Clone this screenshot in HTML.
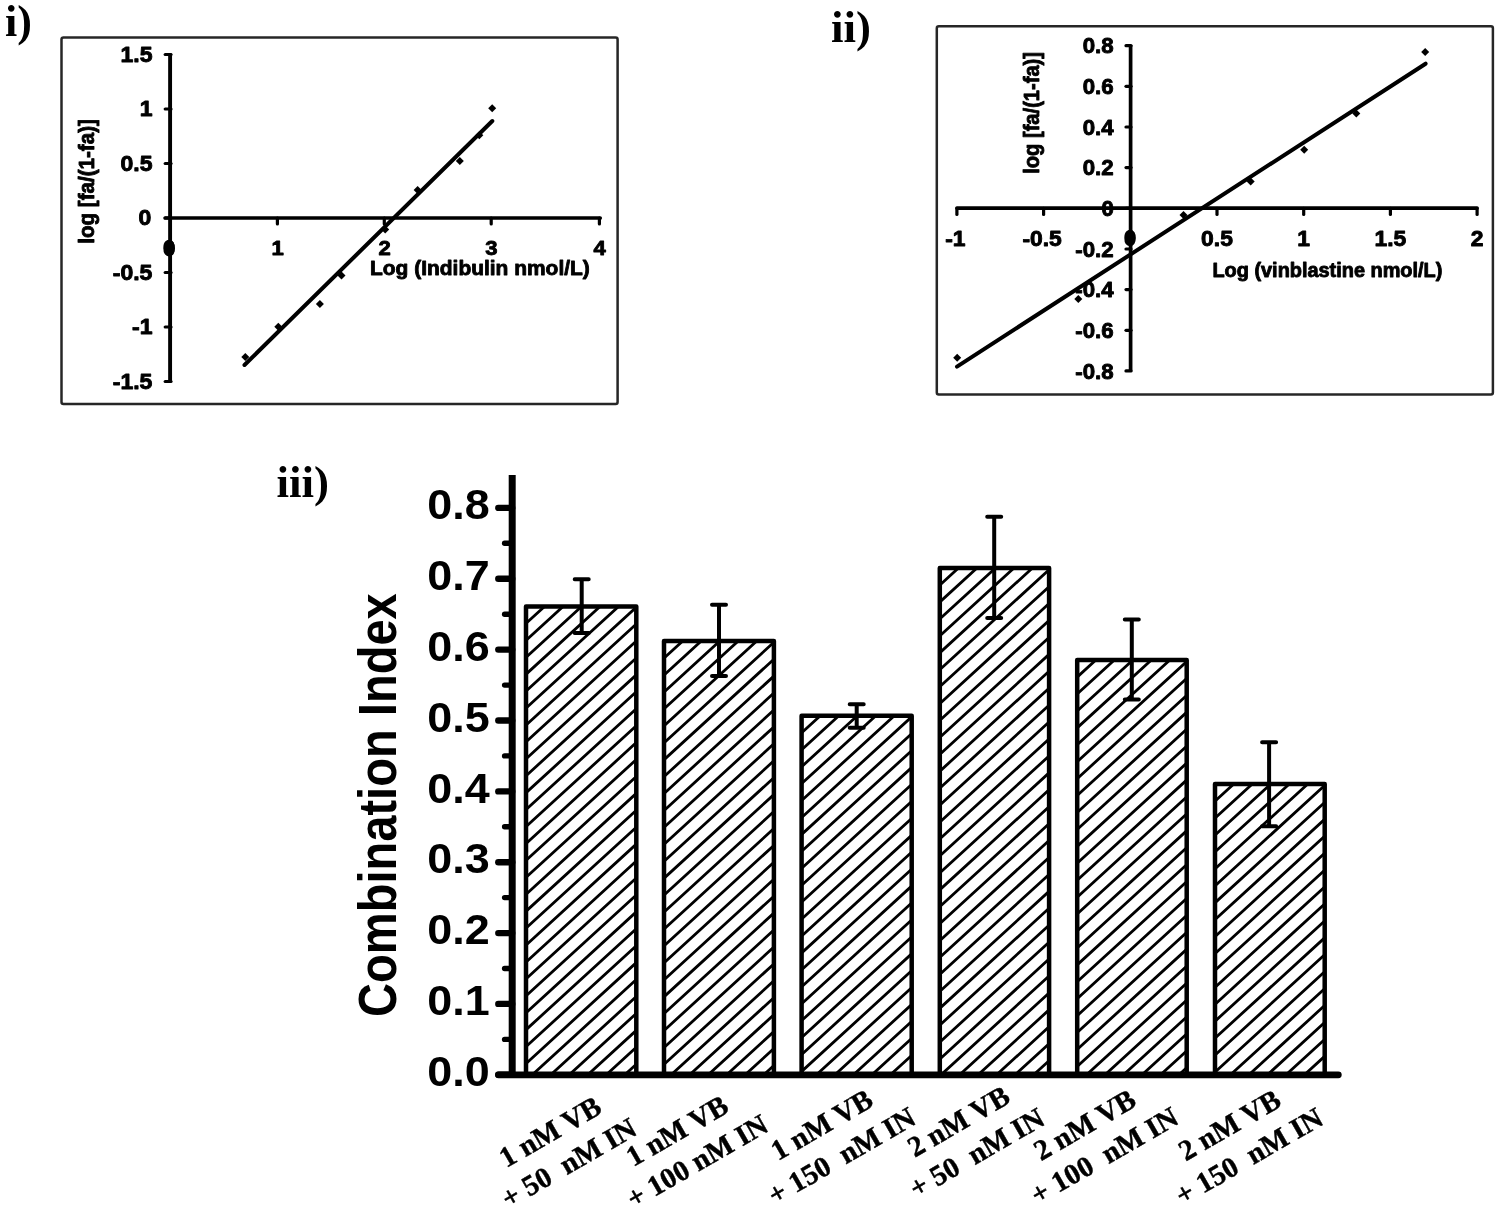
<!DOCTYPE html>
<html lang="en"><head><meta charset="utf-8"><title>Figure</title>
<style>
html,body{margin:0;padding:0;background:#fff;}
body{width:1500px;height:1209px;overflow:hidden;}
svg{display:block;}
text{fill:#000;}
</style></head><body>
<svg width="1500" height="1209" viewBox="0 0 1500 1209">
<defs><filter id="soft" x="-2%" y="-2%" width="104%" height="104%"><feGaussianBlur stdDeviation="0.55"/></filter></defs>
<rect width="1500" height="1209" fill="#fff"/>

<text transform="translate(4.90,36.13) scale(1.0007,1)" font-family="Liberation Serif, serif" font-weight="bold" font-size="44.07"  >i)</text>
<text transform="translate(831.00,41.65) scale(1.0225,1)" font-family="Liberation Serif, serif" font-weight="bold" font-size="43.96"  >ii)</text>
<text transform="translate(276.50,497.17) scale(1.0278,1)" font-family="Liberation Serif, serif" font-weight="bold" font-size="43.85"  >iii)</text>
<g id="chart1" filter="url(#soft)">
<rect x="61.5" y="37.5" width="556.1" height="366.5" rx="2" fill="none" stroke="#262626" stroke-width="2.5"/>
<path d="M170.1,53.5 V382" stroke="#000" stroke-width="3.9" fill="none"/>
<path d="M165.2,218 H600.2" stroke="#000" stroke-width="3.7" fill="none" stroke-linecap="round"/>
<path d="M165.2,54.5 H171" stroke="#000" stroke-width="3.2" stroke-linecap="round"/>
<path d="M165.2,109.0 H171" stroke="#000" stroke-width="3.2" stroke-linecap="round"/>
<path d="M165.2,163.5 H171" stroke="#000" stroke-width="3.2" stroke-linecap="round"/>
<path d="M165.2,218.0 H171" stroke="#000" stroke-width="3.2" stroke-linecap="round"/>
<path d="M165.2,272.5 H171" stroke="#000" stroke-width="3.2" stroke-linecap="round"/>
<path d="M165.2,327.0 H171" stroke="#000" stroke-width="3.2" stroke-linecap="round"/>
<path d="M165.2,381.5 H171" stroke="#000" stroke-width="3.2" stroke-linecap="round"/>
<path d="M277.4,218 V224" stroke="#000" stroke-width="3.2" stroke-linecap="round"/>
<path d="M384.3,218 V224" stroke="#000" stroke-width="3.2" stroke-linecap="round"/>
<path d="M491.2,218 V224" stroke="#000" stroke-width="3.2" stroke-linecap="round"/>
<path d="M599.4,218 V224" stroke="#000" stroke-width="3.2" stroke-linecap="round"/>
<text transform="translate(120.48,61.93) scale(1.0400,1)" font-family="Liberation Sans, sans-serif" font-weight="bold" font-size="22.11" stroke="#000" stroke-width="0.9" stroke-linejoin="round">1.5</text>
<text transform="translate(139.69,116.43) scale(1.0400,1)" font-family="Liberation Sans, sans-serif" font-weight="bold" font-size="22.11" stroke="#000" stroke-width="0.9" stroke-linejoin="round">1</text>
<text transform="translate(120.48,170.93) scale(1.0400,1)" font-family="Liberation Sans, sans-serif" font-weight="bold" font-size="22.11" stroke="#000" stroke-width="0.9" stroke-linejoin="round">0.5</text>
<text transform="translate(138.49,225.43) scale(1.0400,1)" font-family="Liberation Sans, sans-serif" font-weight="bold" font-size="22.11" stroke="#000" stroke-width="0.9" stroke-linejoin="round">0</text>
<text transform="translate(112.78,279.93) scale(1.0400,1)" font-family="Liberation Sans, sans-serif" font-weight="bold" font-size="22.11" stroke="#000" stroke-width="0.9" stroke-linejoin="round">-0.5</text>
<text transform="translate(131.98,334.43) scale(1.0400,1)" font-family="Liberation Sans, sans-serif" font-weight="bold" font-size="22.11" stroke="#000" stroke-width="0.9" stroke-linejoin="round">-1</text>
<text transform="translate(112.78,388.93) scale(1.0400,1)" font-family="Liberation Sans, sans-serif" font-weight="bold" font-size="22.11" stroke="#000" stroke-width="0.9" stroke-linejoin="round">-1.5</text>
<text transform="translate(271.57,255.49) scale(1.0600,1)" font-family="Liberation Sans, sans-serif" font-weight="bold" font-size="20.85" stroke="#000" stroke-width="0.9" stroke-linejoin="round">1</text>
<text transform="translate(378.47,255.49) scale(1.0600,1)" font-family="Liberation Sans, sans-serif" font-weight="bold" font-size="20.85" stroke="#000" stroke-width="0.9" stroke-linejoin="round">2</text>
<text transform="translate(485.37,255.49) scale(1.0600,1)" font-family="Liberation Sans, sans-serif" font-weight="bold" font-size="20.85" stroke="#000" stroke-width="0.9" stroke-linejoin="round">3</text>
<text transform="translate(593.47,255.49) scale(1.0600,1)" font-family="Liberation Sans, sans-serif" font-weight="bold" font-size="20.85" stroke="#000" stroke-width="0.9" stroke-linejoin="round">4</text>
<ellipse cx="169.4" cy="248.2" rx="5.5" ry="8.5" fill="#000"/>
<text x="163.6" y="255.2" font-family="Liberation Sans, sans-serif" font-weight="bold" font-size="20" fill="#000" stroke="#000" stroke-width="2">0</text>
<text transform="translate(370.05,275.25) scale(0.9995,1)" font-family="Liberation Sans, sans-serif" font-weight="bold" font-size="20.96" stroke="#000" stroke-width="0.9" stroke-linejoin="round" >Log (Indibulin nmol/L)</text>
<text transform="translate(93.67,243.75) rotate(-90) scale(0.9040,1)" font-family="Liberation Sans, sans-serif" font-weight="bold" font-size="22.78" stroke="#000" stroke-width="0.9" stroke-linejoin="round" >log [fa/(1-fa)]</text>
<path d="M244.5,365 L492.3,121" stroke="#000" stroke-width="4" stroke-linecap="round"/>
<path d="M488.2,108.3 L492.2,104.3 L496.2,108.3 L492.2,112.3Z" fill="#000"/>
<path d="M475.3,135.3 L479.3,131.3 L483.3,135.3 L479.3,139.3Z" fill="#000"/>
<path d="M455.8,161.1 L459.8,157.1 L463.8,161.1 L459.8,165.1Z" fill="#000"/>
<path d="M413.6,189.9 L417.6,185.9 L421.6,189.9 L417.6,193.9Z" fill="#000"/>
<path d="M381.2,229.5 L385.2,225.5 L389.2,229.5 L385.2,233.5Z" fill="#000"/>
<path d="M337.5,275.6 L341.5,271.6 L345.5,275.6 L341.5,279.6Z" fill="#000"/>
<path d="M315.9,303.9 L319.9,299.9 L323.9,303.9 L319.9,307.9Z" fill="#000"/>
<path d="M274.3,326.7 L278.3,322.7 L282.3,326.7 L278.3,330.7Z" fill="#000"/>
<path d="M241.3,356.9 L245.3,352.9 L249.3,356.9 L245.3,360.9Z" fill="#000"/>
</g>
<g id="chart2" filter="url(#soft)">
<rect x="936.8" y="26.3" width="556.1" height="368.2" rx="2" fill="none" stroke="#262626" stroke-width="2.5"/>
<path d="M1130.6,45 V371.5" stroke="#000" stroke-width="3.7" fill="none"/>
<path d="M957,208.1 H1477" stroke="#000" stroke-width="3.7" fill="none" stroke-linecap="round"/>
<path d="M1126,45.7 H1131" stroke="#000" stroke-width="3.2" stroke-linecap="round"/>
<path d="M1126,86.3 H1131" stroke="#000" stroke-width="3.2" stroke-linecap="round"/>
<path d="M1126,127.0 H1131" stroke="#000" stroke-width="3.2" stroke-linecap="round"/>
<path d="M1126,167.6 H1131" stroke="#000" stroke-width="3.2" stroke-linecap="round"/>
<path d="M1126,208.3 H1131" stroke="#000" stroke-width="3.2" stroke-linecap="round"/>
<path d="M1126,249.0 H1131" stroke="#000" stroke-width="3.2" stroke-linecap="round"/>
<path d="M1126,289.6 H1131" stroke="#000" stroke-width="3.2" stroke-linecap="round"/>
<path d="M1126,330.3 H1131" stroke="#000" stroke-width="3.2" stroke-linecap="round"/>
<path d="M1126,370.9 H1131" stroke="#000" stroke-width="3.2" stroke-linecap="round"/>
<path d="M956.9,208.3 V214.5" stroke="#000" stroke-width="3.2" stroke-linecap="round"/>
<path d="M1043.6,208.3 V214.5" stroke="#000" stroke-width="3.2" stroke-linecap="round"/>
<path d="M1217.0,208.3 V214.5" stroke="#000" stroke-width="3.2" stroke-linecap="round"/>
<path d="M1303.7,208.3 V214.5" stroke="#000" stroke-width="3.2" stroke-linecap="round"/>
<path d="M1390.4,208.3 V214.5" stroke="#000" stroke-width="3.2" stroke-linecap="round"/>
<path d="M1477.1,208.3 V214.5" stroke="#000" stroke-width="3.2" stroke-linecap="round"/>
<text transform="translate(1082.70,53.29) scale(1.0200,1)" font-family="Liberation Sans, sans-serif" font-weight="bold" font-size="21.83" stroke="#000" stroke-width="0.9" stroke-linejoin="round">0.8</text>
<text transform="translate(1082.70,93.95) scale(1.0200,1)" font-family="Liberation Sans, sans-serif" font-weight="bold" font-size="21.83" stroke="#000" stroke-width="0.9" stroke-linejoin="round">0.6</text>
<text transform="translate(1082.70,134.61) scale(1.0200,1)" font-family="Liberation Sans, sans-serif" font-weight="bold" font-size="21.83" stroke="#000" stroke-width="0.9" stroke-linejoin="round">0.4</text>
<text transform="translate(1082.70,175.27) scale(1.0200,1)" font-family="Liberation Sans, sans-serif" font-weight="bold" font-size="21.83" stroke="#000" stroke-width="0.9" stroke-linejoin="round">0.2</text>
<text transform="translate(1101.49,215.93) scale(1.0200,1)" font-family="Liberation Sans, sans-serif" font-weight="bold" font-size="21.83" stroke="#000" stroke-width="0.9" stroke-linejoin="round">0</text>
<text transform="translate(1075.24,256.59) scale(1.0200,1)" font-family="Liberation Sans, sans-serif" font-weight="bold" font-size="21.83" stroke="#000" stroke-width="0.9" stroke-linejoin="round">-0.2</text>
<text transform="translate(1075.24,297.25) scale(1.0200,1)" font-family="Liberation Sans, sans-serif" font-weight="bold" font-size="21.83" stroke="#000" stroke-width="0.9" stroke-linejoin="round">-0.4</text>
<text transform="translate(1075.24,337.91) scale(1.0200,1)" font-family="Liberation Sans, sans-serif" font-weight="bold" font-size="21.83" stroke="#000" stroke-width="0.9" stroke-linejoin="round">-0.6</text>
<text transform="translate(1075.24,378.57) scale(1.0200,1)" font-family="Liberation Sans, sans-serif" font-weight="bold" font-size="21.83" stroke="#000" stroke-width="0.9" stroke-linejoin="round">-0.8</text>
<text transform="translate(945.23,245.88) scale(1.0400,1)" font-family="Liberation Sans, sans-serif" font-weight="bold" font-size="21.97" stroke="#000" stroke-width="0.9" stroke-linejoin="round">-1</text>
<text transform="translate(1022.39,245.88) scale(1.0400,1)" font-family="Liberation Sans, sans-serif" font-weight="bold" font-size="21.97" stroke="#000" stroke-width="0.9" stroke-linejoin="round">-0.5</text>
<text transform="translate(1201.12,245.88) scale(1.0400,1)" font-family="Liberation Sans, sans-serif" font-weight="bold" font-size="21.97" stroke="#000" stroke-width="0.9" stroke-linejoin="round">0.5</text>
<text transform="translate(1297.36,245.88) scale(1.0400,1)" font-family="Liberation Sans, sans-serif" font-weight="bold" font-size="21.97" stroke="#000" stroke-width="0.9" stroke-linejoin="round">1</text>
<text transform="translate(1374.52,245.88) scale(1.0400,1)" font-family="Liberation Sans, sans-serif" font-weight="bold" font-size="21.97" stroke="#000" stroke-width="0.9" stroke-linejoin="round">1.5</text>
<text transform="translate(1470.76,245.88) scale(1.0400,1)" font-family="Liberation Sans, sans-serif" font-weight="bold" font-size="21.97" stroke="#000" stroke-width="0.9" stroke-linejoin="round">2</text>
<ellipse cx="1130.3" cy="238" rx="5" ry="8.2" fill="#000"/>
<text x="1124.6" y="245.2" font-family="Liberation Sans, sans-serif" font-weight="bold" font-size="20" fill="#000" stroke="#000" stroke-width="2">0</text>
<text transform="translate(1212.45,277.05) scale(0.9957,1)" font-family="Liberation Sans, sans-serif" font-weight="bold" font-size="20.00" stroke="#000" stroke-width="0.9" stroke-linejoin="round" >Log (vinblastine nmol/L)</text>
<text transform="translate(1039.06,173.75) rotate(-90) scale(0.8999,1)" font-family="Liberation Sans, sans-serif" font-weight="bold" font-size="22.35" stroke="#000" stroke-width="0.9" stroke-linejoin="round" >log [fa/(1-fa)]</text>
<path d="M957,366.6 L1425.6,63.7" stroke="#000" stroke-width="4" stroke-linecap="round"/>
<path d="M1421.2,51.9 L1425.2,47.9 L1429.2,51.9 L1425.2,55.9Z" fill="#000"/>
<path d="M1352.3,113.6 L1356.3,109.6 L1360.3,113.6 L1356.3,117.6Z" fill="#000"/>
<path d="M1300.2,149.8 L1304.2,145.8 L1308.2,149.8 L1304.2,153.8Z" fill="#000"/>
<path d="M1246.7,181.5 L1250.7,177.5 L1254.7,181.5 L1250.7,185.5Z" fill="#000"/>
<path d="M1179.5,215.1 L1183.5,211.1 L1187.5,215.1 L1183.5,219.1Z" fill="#000"/>
<path d="M1074.3,299.1 L1078.3,295.1 L1082.3,299.1 L1078.3,303.1Z" fill="#000"/>
<path d="M953.2,357.7 L957.2,353.7 L961.2,357.7 L957.2,361.7Z" fill="#000"/>
</g>
<g id="chart3">
<defs>
<clipPath id="cb0"><rect x="526.0" y="606.4" width="110.3" height="468.4"/></clipPath>
<clipPath id="cb1"><rect x="664.0" y="641.0" width="109.9" height="433.8"/></clipPath>
<clipPath id="cb2"><rect x="801.6" y="715.7" width="110.1" height="359.1"/></clipPath>
<clipPath id="cb3"><rect x="939.8" y="568.0" width="109.3" height="506.8"/></clipPath>
<clipPath id="cb4"><rect x="1077.2" y="659.9" width="109.5" height="414.9"/></clipPath>
<clipPath id="cb5"><rect x="1215.0" y="784.0" width="109.7" height="290.8"/></clipPath>
</defs>
<path clip-path="url(#cb0)" d="M552.2,599.5L513.7,634.7M570.7,599.5L513.7,651.7M589.2,599.5L513.7,668.6M607.7,599.5L513.7,685.5M626.2,599.5L513.7,702.4M644.7,599.5L513.7,719.4M663.2,599.5L513.7,736.3M681.7,599.5L513.7,753.2M700.2,599.5L513.7,770.1M718.7,599.5L513.7,787.1M737.2,599.5L513.7,804.0M755.7,599.5L513.7,820.9M774.2,599.5L513.7,837.9M792.7,599.5L513.7,854.8M811.2,599.5L513.7,871.7M829.7,599.5L513.7,888.6M848.2,599.5L513.7,905.6M866.7,599.5L513.7,922.5M885.2,599.5L513.7,939.4M903.7,599.5L513.7,956.3M922.2,599.5L513.7,973.3M940.7,599.5L513.7,990.2M959.2,599.5L513.7,1007.1M977.7,599.5L513.7,1024.1M996.2,599.5L513.7,1041.0M1014.7,599.5L513.7,1057.9M1033.2,599.5L513.7,1074.8M1051.7,599.5L513.7,1091.8M1070.2,599.5L513.7,1108.7M1088.7,599.5L513.7,1125.6M1107.2,599.5L513.7,1142.6M1125.7,599.5L513.7,1159.5M1144.2,599.5L513.7,1176.4M1162.7,599.5L513.7,1193.3M1181.2,599.5L513.7,1210.3" stroke="#000" stroke-width="2.8" fill="none"/>
<rect x="526.0" y="606.4" width="110.3" height="468.4" fill="none" stroke="#000" stroke-width="4.5" stroke-linejoin="round"/>
<path clip-path="url(#cb1)" d="M690.3,634.1L651.8,669.3M708.8,634.1L651.8,686.3M727.3,634.1L651.8,703.2M745.8,634.1L651.8,720.1M764.3,634.1L651.8,737.0M782.8,634.1L651.8,754.0M801.3,634.1L651.8,770.9M819.8,634.1L651.8,787.8M838.3,634.1L651.8,804.7M856.8,634.1L651.8,821.7M875.3,634.1L651.8,838.6M893.8,634.1L651.8,855.5M912.3,634.1L651.8,872.5M930.8,634.1L651.8,889.4M949.3,634.1L651.8,906.3M967.8,634.1L651.8,923.2M986.3,634.1L651.8,940.2M1004.8,634.1L651.8,957.1M1023.3,634.1L651.8,974.0M1041.8,634.1L651.8,991.0M1060.3,634.1L651.8,1007.9M1078.8,634.1L651.8,1024.8M1097.3,634.1L651.8,1041.7M1115.8,634.1L651.8,1058.7M1134.3,634.1L651.8,1075.6M1152.8,634.1L651.8,1092.5M1171.3,634.1L651.8,1109.4M1189.8,634.1L651.8,1126.4M1208.3,634.1L651.8,1143.3M1226.8,634.1L651.8,1160.2M1245.3,634.1L651.8,1177.2M1263.8,634.1L651.8,1194.1M1282.3,634.1L651.8,1211.0" stroke="#000" stroke-width="2.8" fill="none"/>
<rect x="664.0" y="641.0" width="109.9" height="433.8" fill="none" stroke="#000" stroke-width="4.5" stroke-linejoin="round"/>
<path clip-path="url(#cb2)" d="M827.9,708.8L789.4,744.0M846.4,708.8L789.4,761.0M864.9,708.8L789.4,777.9M883.4,708.8L789.4,794.8M901.9,708.8L789.4,811.7M920.4,708.8L789.4,828.7M938.9,708.8L789.4,845.6M957.4,708.8L789.4,862.5M975.9,708.8L789.4,879.4M994.4,708.8L789.4,896.4M1012.9,708.8L789.4,913.3M1031.4,708.8L789.4,930.2M1049.9,708.8L789.4,947.2M1068.4,708.8L789.4,964.1M1086.9,708.8L789.4,981.0M1105.4,708.8L789.4,997.9M1123.9,708.8L789.4,1014.9M1142.4,708.8L789.4,1031.8M1160.9,708.8L789.4,1048.7M1179.4,708.8L789.4,1065.7M1197.9,708.8L789.4,1082.6M1216.4,708.8L789.4,1099.5M1234.9,708.8L789.4,1116.4M1253.4,708.8L789.4,1133.4M1271.9,708.8L789.4,1150.3M1290.4,708.8L789.4,1167.2M1308.9,708.8L789.4,1184.1M1327.4,708.8L789.4,1201.1M1345.9,708.8L789.4,1218.0" stroke="#000" stroke-width="2.8" fill="none"/>
<rect x="801.6" y="715.7" width="110.1" height="359.1" fill="none" stroke="#000" stroke-width="4.5" stroke-linejoin="round"/>
<path clip-path="url(#cb3)" d="M966.0,561.1L927.5,596.3M984.5,561.1L927.5,613.3M1003.0,561.1L927.5,630.2M1021.5,561.1L927.5,647.1M1040.0,561.1L927.5,664.0M1058.5,561.1L927.5,681.0M1077.0,561.1L927.5,697.9M1095.5,561.1L927.5,714.8M1114.0,561.1L927.5,731.7M1132.5,561.1L927.5,748.7M1151.0,561.1L927.5,765.6M1169.5,561.1L927.5,782.5M1188.0,561.1L927.5,799.5M1206.5,561.1L927.5,816.4M1225.0,561.1L927.5,833.3M1243.5,561.1L927.5,850.2M1262.0,561.1L927.5,867.2M1280.5,561.1L927.5,884.1M1299.0,561.1L927.5,901.0M1317.5,561.1L927.5,918.0M1336.0,561.1L927.5,934.9M1354.5,561.1L927.5,951.8M1373.0,561.1L927.5,968.7M1391.5,561.1L927.5,985.7M1410.0,561.1L927.5,1002.6M1428.5,561.1L927.5,1019.5M1447.0,561.1L927.5,1036.4M1465.5,561.1L927.5,1053.4M1484.0,561.1L927.5,1070.3M1502.5,561.1L927.5,1087.2M1521.0,561.1L927.5,1104.2M1539.5,561.1L927.5,1121.1M1558.0,561.1L927.5,1138.0M1576.5,561.1L927.5,1154.9M1595.0,561.1L927.5,1171.9M1613.5,561.1L927.5,1188.8M1632.0,561.1L927.5,1205.7M1650.5,561.1L927.5,1222.6" stroke="#000" stroke-width="2.8" fill="none"/>
<rect x="939.8" y="568.0" width="109.3" height="506.8" fill="none" stroke="#000" stroke-width="4.5" stroke-linejoin="round"/>
<path clip-path="url(#cb4)" d="M1103.5,653.0L1065.0,688.2M1122.0,653.0L1065.0,705.2M1140.5,653.0L1065.0,722.1M1159.0,653.0L1065.0,739.0M1177.5,653.0L1065.0,755.9M1196.0,653.0L1065.0,772.9M1214.5,653.0L1065.0,789.8M1233.0,653.0L1065.0,806.7M1251.5,653.0L1065.0,823.6M1270.0,653.0L1065.0,840.6M1288.5,653.0L1065.0,857.5M1307.0,653.0L1065.0,874.4M1325.5,653.0L1065.0,891.4M1344.0,653.0L1065.0,908.3M1362.5,653.0L1065.0,925.2M1381.0,653.0L1065.0,942.1M1399.5,653.0L1065.0,959.1M1418.0,653.0L1065.0,976.0M1436.5,653.0L1065.0,992.9M1455.0,653.0L1065.0,1009.8M1473.5,653.0L1065.0,1026.8M1492.0,653.0L1065.0,1043.7M1510.5,653.0L1065.0,1060.6M1529.0,653.0L1065.0,1077.6M1547.5,653.0L1065.0,1094.5M1566.0,653.0L1065.0,1111.4M1584.5,653.0L1065.0,1128.3M1603.0,653.0L1065.0,1145.3M1621.5,653.0L1065.0,1162.2M1640.0,653.0L1065.0,1179.1M1658.5,653.0L1065.0,1196.1M1677.0,653.0L1065.0,1213.0" stroke="#000" stroke-width="2.8" fill="none"/>
<rect x="1077.2" y="659.9" width="109.5" height="414.9" fill="none" stroke="#000" stroke-width="4.5" stroke-linejoin="round"/>
<path clip-path="url(#cb5)" d="M1241.3,777.1L1202.8,812.3M1259.8,777.1L1202.8,829.3M1278.3,777.1L1202.8,846.2M1296.8,777.1L1202.8,863.1M1315.3,777.1L1202.8,880.0M1333.8,777.1L1202.8,897.0M1352.3,777.1L1202.8,913.9M1370.8,777.1L1202.8,930.8M1389.3,777.1L1202.8,947.7M1407.8,777.1L1202.8,964.7M1426.3,777.1L1202.8,981.6M1444.8,777.1L1202.8,998.5M1463.3,777.1L1202.8,1015.5M1481.8,777.1L1202.8,1032.4M1500.3,777.1L1202.8,1049.3M1518.8,777.1L1202.8,1066.2M1537.3,777.1L1202.8,1083.2M1555.8,777.1L1202.8,1100.1M1574.3,777.1L1202.8,1117.0M1592.8,777.1L1202.8,1134.0M1611.3,777.1L1202.8,1150.9M1629.8,777.1L1202.8,1167.8M1648.3,777.1L1202.8,1184.7M1666.8,777.1L1202.8,1201.7M1685.3,777.1L1202.8,1218.6" stroke="#000" stroke-width="2.8" fill="none"/>
<rect x="1215.0" y="784.0" width="109.7" height="290.8" fill="none" stroke="#000" stroke-width="4.5" stroke-linejoin="round"/>
<path d="M581.7,579.3V633.0M574.7,579.3h14M574.7,633.0h14" stroke="#000" stroke-width="4" stroke-linecap="round" fill="none"/>
<path d="M719.0,604.7V676.0M712.0,604.7h14M712.0,676.0h14" stroke="#000" stroke-width="4" stroke-linecap="round" fill="none"/>
<path d="M856.7,704.3V727.7M849.7,704.3h14M849.7,727.7h14" stroke="#000" stroke-width="4" stroke-linecap="round" fill="none"/>
<path d="M994.2,516.7V617.9M987.2,516.7h14M987.2,617.9h14" stroke="#000" stroke-width="4" stroke-linecap="round" fill="none"/>
<path d="M1131.8,619.4V699.5M1124.8,619.4h14M1124.8,699.5h14" stroke="#000" stroke-width="4" stroke-linecap="round" fill="none"/>
<path d="M1269.1,742.3V826.2M1262.1,742.3h14M1262.1,826.2h14" stroke="#000" stroke-width="4" stroke-linecap="round" fill="none"/>
<path d="M512.2,474.9 V1075" stroke="#000" stroke-width="7" fill="none"/>
<path d="M498.5,1074.8 H1338.3" stroke="#000" stroke-width="6.8" stroke-linecap="round" fill="none"/>
<path d="M498.3,1074.8 H512.2" stroke="#000" stroke-width="6.4" stroke-linecap="round"/>
<path d="M504.6,1039.4 H512.2" stroke="#000" stroke-width="5.4" stroke-linecap="round"/>
<path d="M498.3,1003.9 H512.2" stroke="#000" stroke-width="6.4" stroke-linecap="round"/>
<path d="M504.6,968.5 H512.2" stroke="#000" stroke-width="5.4" stroke-linecap="round"/>
<path d="M498.3,933.1 H512.2" stroke="#000" stroke-width="6.4" stroke-linecap="round"/>
<path d="M504.6,897.6 H512.2" stroke="#000" stroke-width="5.4" stroke-linecap="round"/>
<path d="M498.3,862.2 H512.2" stroke="#000" stroke-width="6.4" stroke-linecap="round"/>
<path d="M504.6,826.8 H512.2" stroke="#000" stroke-width="5.4" stroke-linecap="round"/>
<path d="M498.3,791.4 H512.2" stroke="#000" stroke-width="6.4" stroke-linecap="round"/>
<path d="M504.6,755.9 H512.2" stroke="#000" stroke-width="5.4" stroke-linecap="round"/>
<path d="M498.3,720.5 H512.2" stroke="#000" stroke-width="6.4" stroke-linecap="round"/>
<path d="M504.6,685.1 H512.2" stroke="#000" stroke-width="5.4" stroke-linecap="round"/>
<path d="M498.3,649.6 H512.2" stroke="#000" stroke-width="6.4" stroke-linecap="round"/>
<path d="M504.6,614.2 H512.2" stroke="#000" stroke-width="5.4" stroke-linecap="round"/>
<path d="M498.3,578.8 H512.2" stroke="#000" stroke-width="6.4" stroke-linecap="round"/>
<path d="M504.6,543.3 H512.2" stroke="#000" stroke-width="5.4" stroke-linecap="round"/>
<path d="M498.3,507.9 H512.2" stroke="#000" stroke-width="6.4" stroke-linecap="round"/>
<text transform="translate(427.30,1086.07) scale(1.0519,1)" font-family="Liberation Sans, sans-serif" font-weight="bold" font-size="42.68">0.0</text>
<text transform="translate(427.30,1015.21) scale(1.0519,1)" font-family="Liberation Sans, sans-serif" font-weight="bold" font-size="42.68">0.1</text>
<text transform="translate(427.30,944.35) scale(1.0519,1)" font-family="Liberation Sans, sans-serif" font-weight="bold" font-size="42.68">0.2</text>
<text transform="translate(427.30,873.49) scale(1.0519,1)" font-family="Liberation Sans, sans-serif" font-weight="bold" font-size="42.68">0.3</text>
<text transform="translate(427.30,802.63) scale(1.0519,1)" font-family="Liberation Sans, sans-serif" font-weight="bold" font-size="42.68">0.4</text>
<text transform="translate(427.30,731.77) scale(1.0519,1)" font-family="Liberation Sans, sans-serif" font-weight="bold" font-size="42.68">0.5</text>
<text transform="translate(427.30,660.91) scale(1.0519,1)" font-family="Liberation Sans, sans-serif" font-weight="bold" font-size="42.68">0.6</text>
<text transform="translate(427.30,590.05) scale(1.0519,1)" font-family="Liberation Sans, sans-serif" font-weight="bold" font-size="42.68">0.7</text>
<text transform="translate(427.30,519.19) scale(1.0519,1)" font-family="Liberation Sans, sans-serif" font-weight="bold" font-size="42.68">0.8</text>
<text transform="translate(395.96,1017.00) rotate(-90) scale(0.8722,1)" font-family="Liberation Sans, sans-serif" font-weight="bold" font-size="54.01"  >Combination Index</text>
<text xml:space="preserve" style="white-space:pre" transform="translate(506.3,1168.2) rotate(-30)" font-family="Liberation Serif, serif" font-weight="bold" font-size="29" stroke="#000" stroke-width="0.4">1 nM VB</text>
<text xml:space="preserve" style="white-space:pre" transform="translate(508.5,1209.0) rotate(-30)" font-family="Liberation Serif, serif" font-weight="bold" font-size="29" stroke="#000" stroke-width="0.4">+ 50  nM IN</text>
<text xml:space="preserve" style="white-space:pre" transform="translate(633.3,1167.2) rotate(-30)" font-family="Liberation Serif, serif" font-weight="bold" font-size="29" stroke="#000" stroke-width="0.4">1 nM VB</text>
<text xml:space="preserve" style="white-space:pre" transform="translate(633.7,1209.1) rotate(-30)" font-family="Liberation Serif, serif" font-weight="bold" font-size="29" stroke="#000" stroke-width="0.4">+ 100 nM IN</text>
<text xml:space="preserve" style="white-space:pre" transform="translate(777.9,1161.3) rotate(-30)" font-family="Liberation Serif, serif" font-weight="bold" font-size="29" stroke="#000" stroke-width="0.4">1 nM VB</text>
<text xml:space="preserve" style="white-space:pre" transform="translate(775.0,1205.5) rotate(-30)" font-family="Liberation Serif, serif" font-weight="bold" font-size="29" stroke="#000" stroke-width="0.4">+ 150  nM IN</text>
<text xml:space="preserve" style="white-space:pre" transform="translate(914.7,1157.8) rotate(-30)" font-family="Liberation Serif, serif" font-weight="bold" font-size="29" stroke="#000" stroke-width="0.4">2 nM VB</text>
<text xml:space="preserve" style="white-space:pre" transform="translate(916.4,1198.8) rotate(-30)" font-family="Liberation Serif, serif" font-weight="bold" font-size="29" stroke="#000" stroke-width="0.4">+ 50  nM IN</text>
<text xml:space="preserve" style="white-space:pre" transform="translate(1040.9,1161.3) rotate(-30)" font-family="Liberation Serif, serif" font-weight="bold" font-size="29" stroke="#000" stroke-width="0.4">2 nM VB</text>
<text xml:space="preserve" style="white-space:pre" transform="translate(1037.7,1205.2) rotate(-30)" font-family="Liberation Serif, serif" font-weight="bold" font-size="29" stroke="#000" stroke-width="0.4">+ 100  nM IN</text>
<text xml:space="preserve" style="white-space:pre" transform="translate(1185.7,1161.4) rotate(-30)" font-family="Liberation Serif, serif" font-weight="bold" font-size="29" stroke="#000" stroke-width="0.4">2 nM VB</text>
<text xml:space="preserve" style="white-space:pre" transform="translate(1182.5,1205.8) rotate(-30)" font-family="Liberation Serif, serif" font-weight="bold" font-size="29" stroke="#000" stroke-width="0.4">+ 150  nM IN</text>
</g>
</svg></body></html>
